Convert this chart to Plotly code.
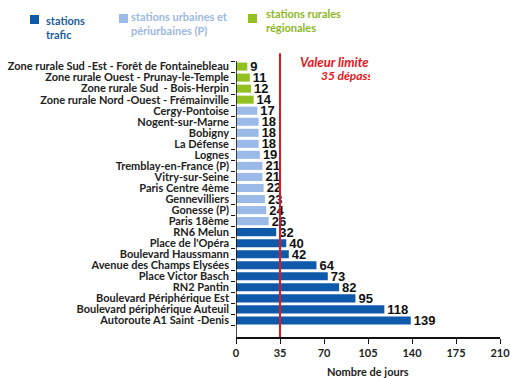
import plotly.graph_objects as go

stations = [
    "Zone rurale Sud -Est - Forêt de Fontainebleau",
    "Zone rurale Ouest - Prunay-le-Temple",
    "Zone rurale Sud  - Bois-Herpin",
    "Zone rurale Nord -Ouest - Frémainville",
    "Cergy-Pontoise",
    "Nogent-sur-Marne",
    "Bobigny",
    "La Défense",
    "Lognes",
    "Tremblay-en-France (P)",
    "Vitry-sur-Seine",
    "Paris Centre 4ème",
    "Gennevilliers",
    "Gonesse (P)",
    "Paris 18ème",
    "RN6 Melun",
    "Place de l'Opéra",
    "Boulevard Haussmann",
    "Avenue des Champs Elysées",
    "Place Victor Basch",
    "RN2 Pantin",
    "Boulevard Périphérique Est",
    "Boulevard périphérique Auteuil",
    "Autoroute A1 Saint -Denis",
]
jours = [9, 11, 12, 14, 17, 18, 18, 18, 19, 21, 21, 22, 23, 24, 26, 32, 40, 42, 64, 73, 82, 95, 118, 139]
groupes = ["rural"] * 4 + ["urbain"] * 11 + ["trafic"] * 9

x_ticks = [0, 35, 70, 105, 140, 175, 210]
valeur_limite = 35

couleurs = {"trafic": "#0E59AA", "urbain": "#9CBAE8", "rural": "#92C020"}
legende = [
    ("trafic", "stations<br>trafic", "#1E5C9E"),
    ("urbain", "stations urbaines et<br>périurbaines (P)", "#9DB8E2"),
    ("rural", "stations rurales<br>régionales", "#8DB826"),
]

W, H = 510, 378
L, R, T, B = 236, 10, 50, 41
PW, PH = W - L - R, H - T - B


def px(x):
    return (x - L) / PW


def py(y):
    return (H - B - y) / PH


FONT = "Lato, sans-serif"

fig = go.Figure()
fig.add_trace(go.Bar(
    y=stations, x=jours, orientation="h",
    marker=dict(color=[couleurs[g] for g in groupes], line=dict(width=0)),
    text=[f"<b>{v}</b>" for v in jours], textposition="outside", constraintext="none",
    textfont=dict(family="Liberation Sans, Arial, sans-serif", size=13, color="#111111"),
    cliponaxis=False, showlegend=False, hoverinfo="skip",
))

# clipped text box for the limit value
fig.add_trace(go.Scatter(
    x=[(300 - 280) / 90, (321 - 280) / 90], y=[0.667, 0.357], mode="text",
    text=["<b><i>Valeur limite :</i></b>", "<b><i>35 dépassements</i></b>"],
    textposition="middle right",
    textfont=dict(family=FONT, size=[13, 12], color="#E8141B"),
    cliponaxis=True, xaxis="x2", yaxis="y2", showlegend=False, hoverinfo="skip",
))

shapes = [
    dict(type="line", xref="x", yref="y", x0=valeur_limite, x1=valeur_limite,
         y0=-1.2, y1=24.5, line=dict(color="#E8141B", width=2), layer="above"),
]
annotations = [
    dict(text="<b>Nombre de jours</b>", xref="paper", yref="paper", x=px(368), y=py(371),
         showarrow=False, font=dict(family=FONT, size=11, color="#222222"),
         xanchor="center", yanchor="middle"),
]
leg_pos = [(30, 15, 44, 18), (119, 14, 129, 14), (248, 14, 264, 11)]
for (g, txt, tc), (sx, sy, tx, ty) in zip(legende, leg_pos):
    shapes.append(dict(type="rect", xref="paper", yref="paper",
                       x0=px(sx), x1=px(sx + 9), y0=py(sy), y1=py(sy + 9),
                       fillcolor=couleurs[g], line=dict(width=0)))
    annotations.append(dict(text="<b>" + txt + "</b>", xref="paper", yref="paper",
                            x=px(tx), y=py(ty - 6), xanchor="left", yanchor="top",
                            align="left", showarrow=False,
                            font=dict(family=FONT, size=11, color=tc)))

fig.update_layout(
    width=W, height=H, margin=dict(l=L, r=R, t=T, b=B),
    paper_bgcolor="white", plot_bgcolor="white",
    bargap=0.27,
    font=dict(family=FONT, size=11, color="#222222"),
    xaxis=dict(range=[0, 210], tickvals=x_ticks, ticktext=[f"<b>{v}</b>" for v in x_ticks],
               showgrid=False, zeroline=False, showline=True, linecolor="#111111", linewidth=1.5,
               ticks="outside", ticklen=5, tickcolor="#111111", automargin=False,
               ticklabeloverflow="allow",
               tickfont=dict(family=FONT, size=11, color="#222222")),
    yaxis=dict(categoryorder="array", categoryarray=stations, range=[24.5, -1.5],
               tickvals=stations, ticktext=[f"<b>{s}</b>" for s in stations],
               showgrid=False, zeroline=False, showline=False, automargin=False,
               ticks="outside", ticklen=4, tickcolor="#111111", tickson="boundaries",
               ticklabelstandoff=6,
               tickfont=dict(family=FONT, size=11, color="#222222")),
    xaxis2=dict(domain=[px(280), px(370)], range=[0, 1], visible=False, anchor="y2"),
    yaxis2=dict(domain=[py(92), 1], range=[0, 1], visible=False, anchor="x2"),
    shapes=shapes + [dict(type="line", xref="x", yref="y", x0=0, x1=0, y0=-0.5, y1=24.5,
                          line=dict(color="#111111", width=1.5))],
    annotations=annotations,
)

fig.write_html("out.html")
